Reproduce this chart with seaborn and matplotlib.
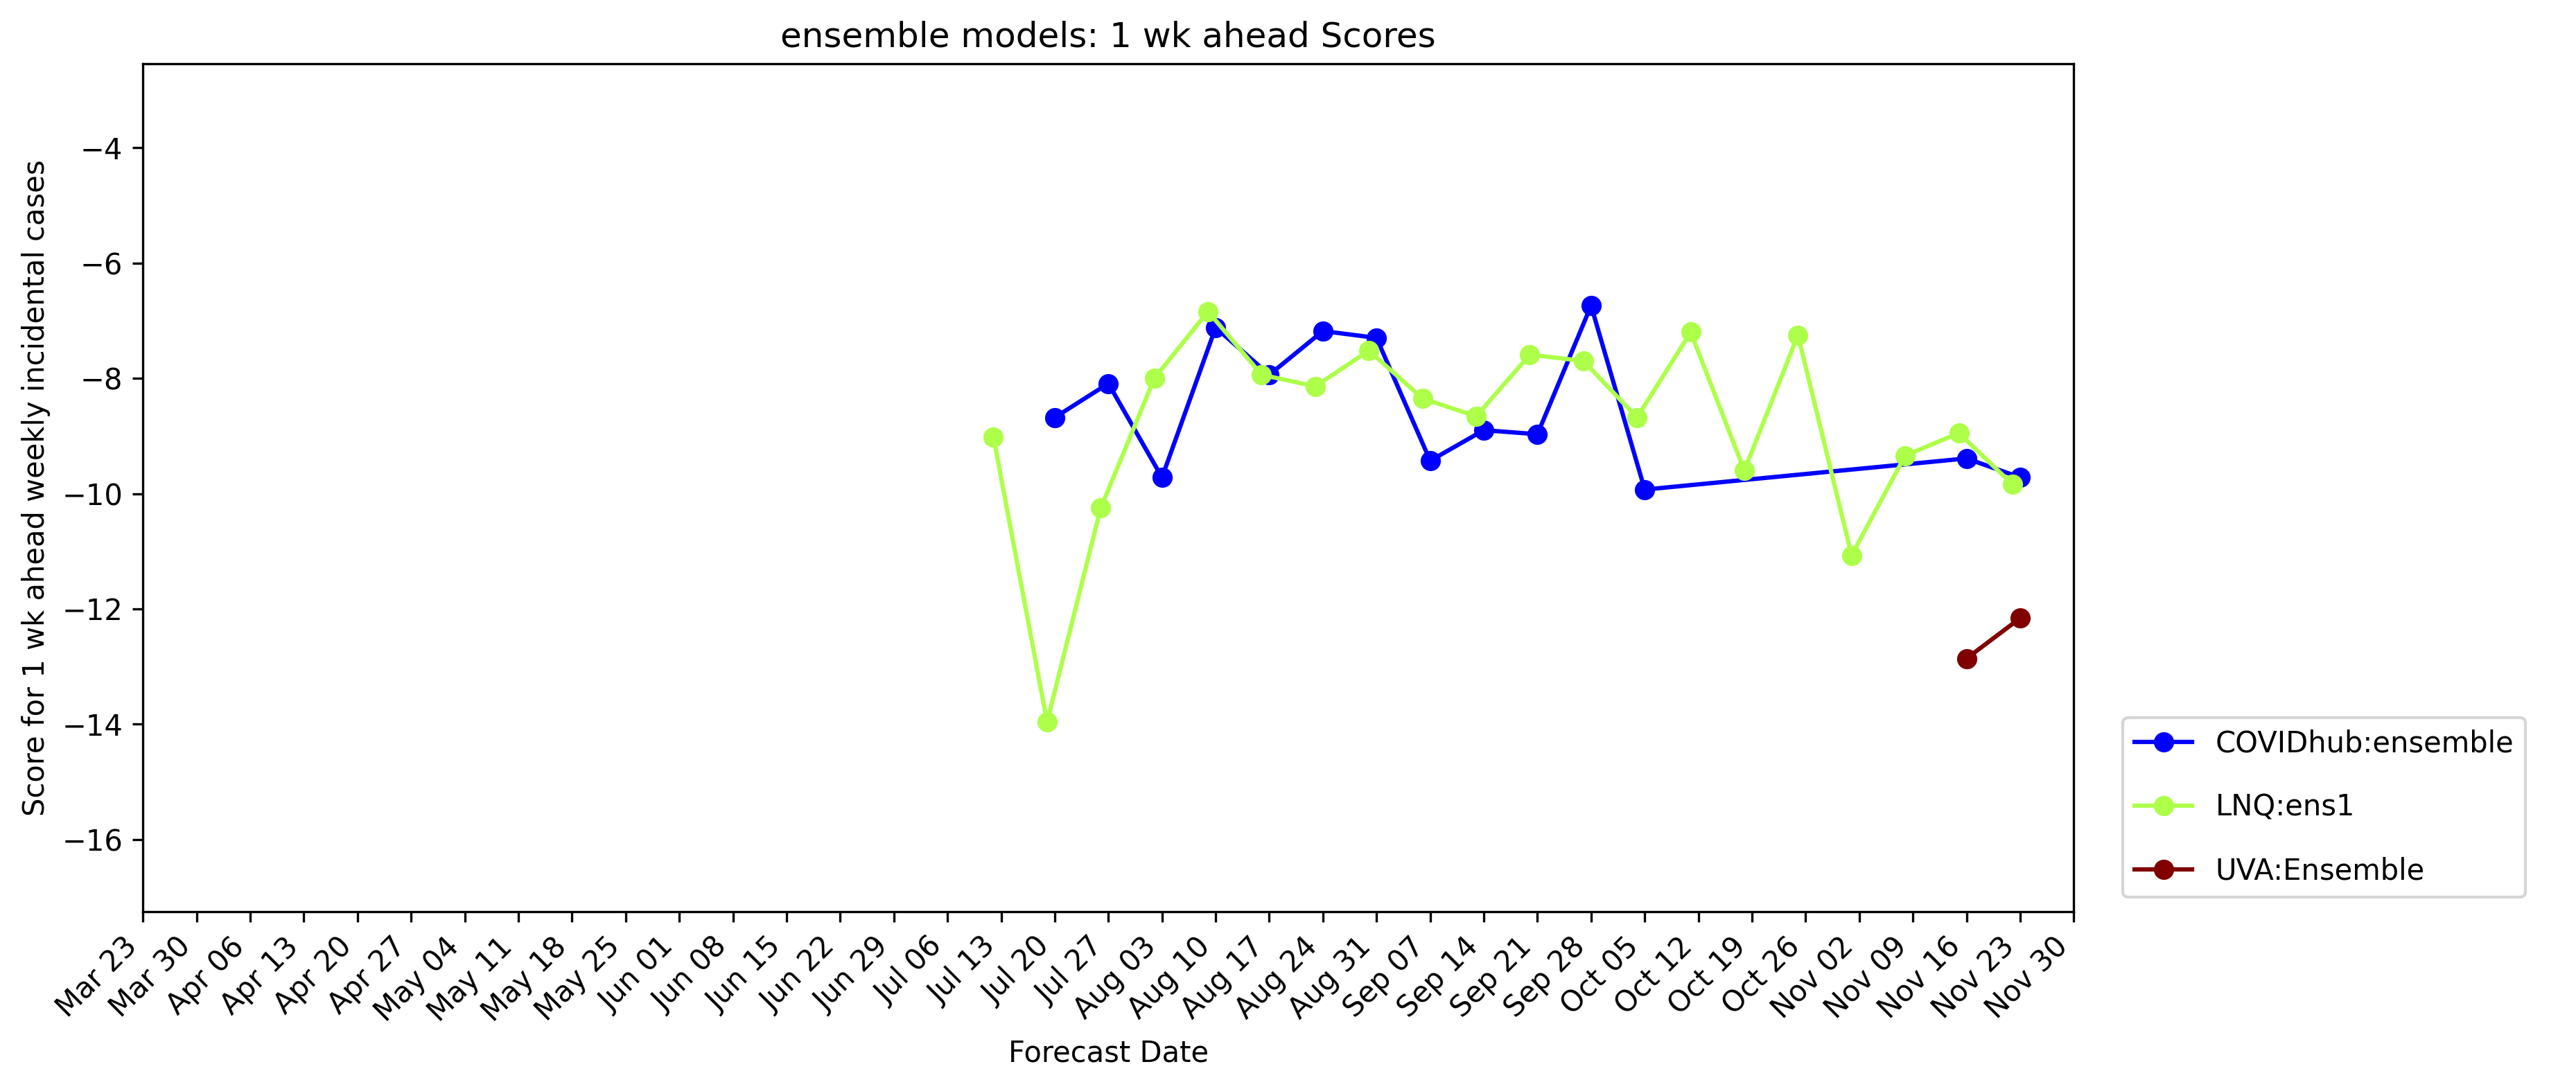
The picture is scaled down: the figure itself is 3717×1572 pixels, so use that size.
import pandas as pd
import seaborn as sns
import matplotlib.pyplot as plt
import matplotlib.dates as mdates

covid_dates = ['2020-07-20', '2020-07-27', '2020-08-03', '2020-08-10', '2020-08-17', '2020-08-24',
               '2020-08-31', '2020-09-07', '2020-09-14', '2020-09-21', '2020-09-28', '2020-10-05',
               '2020-11-16', '2020-11-23']
covid_scores = [-8.68, -8.09, -9.72, -7.12, -7.94, -7.18, -7.30, -9.43, -8.90, -8.97, -6.74, -9.93,
                -9.39, -9.72]

lnq_dates = ['2020-07-12', '2020-07-19', '2020-07-26', '2020-08-02', '2020-08-09', '2020-08-16',
             '2020-08-23', '2020-08-30', '2020-09-06', '2020-09-13', '2020-09-20', '2020-09-27',
             '2020-10-04', '2020-10-11', '2020-10-18', '2020-10-25', '2020-11-01', '2020-11-08',
             '2020-11-15', '2020-11-22']
lnq_scores = [-9.02, -13.96, -10.25, -8.00, -6.84, -7.94, -8.14, -7.52, -8.35, -8.66, -7.59, -7.70,
              -8.68, -7.20, -9.60, -7.25, -11.07, -9.34, -8.95, -9.84]

uva_dates = ['2020-11-16', '2020-11-23']
uva_scores = [-12.86, -12.16]

models = ['COVIDhub:ensemble', 'LNQ:ens1', 'UVA:Ensemble']
colors = ['#0000ff', '#adff4a', '#800000']

df = pd.concat([
    pd.DataFrame({'date': pd.to_datetime(d), 'score': s, 'model': m})
    for d, s, m in [(covid_dates, covid_scores, models[0]),
                    (lnq_dates, lnq_scores, models[1]),
                    (uva_dates, uva_scores, models[2])]
])

fig = plt.figure(figsize=(12.393, 5.24), dpi=300)
ax = fig.add_axes([87 / 1568, 1 - 555 / 663, (1262 - 87) / 1568, (555 - 39) / 663])
sns.lineplot(data=df, x='date', y='score', hue='model', hue_order=models,
             palette=dict(zip(models, colors)), marker='o', markersize=7,
             markeredgewidth=0, linewidth=1.5, ax=ax, sort=True)

ticks = pd.date_range('2020-03-23', '2020-11-30', freq='7D')
ax.set_xticks(ticks)
ax.set_xticklabels([t.strftime('%b %d') for t in ticks], rotation=45, ha='right')
ax.set_xlim(ticks[0], ticks[-1])
ax.set_ylim(-17.25, -2.55)
ax.set_xlabel('Forecast Date')
ax.set_ylabel('Score for 1 wk ahead weekly incidental cases')
ax.set_title('ensemble models: 1 wk ahead Scores')
ax.legend(title=None, loc='lower left', bbox_to_anchor=(1.018, 0.0), labelspacing=1.2)

fig.savefig('out.png', dpi=300)
